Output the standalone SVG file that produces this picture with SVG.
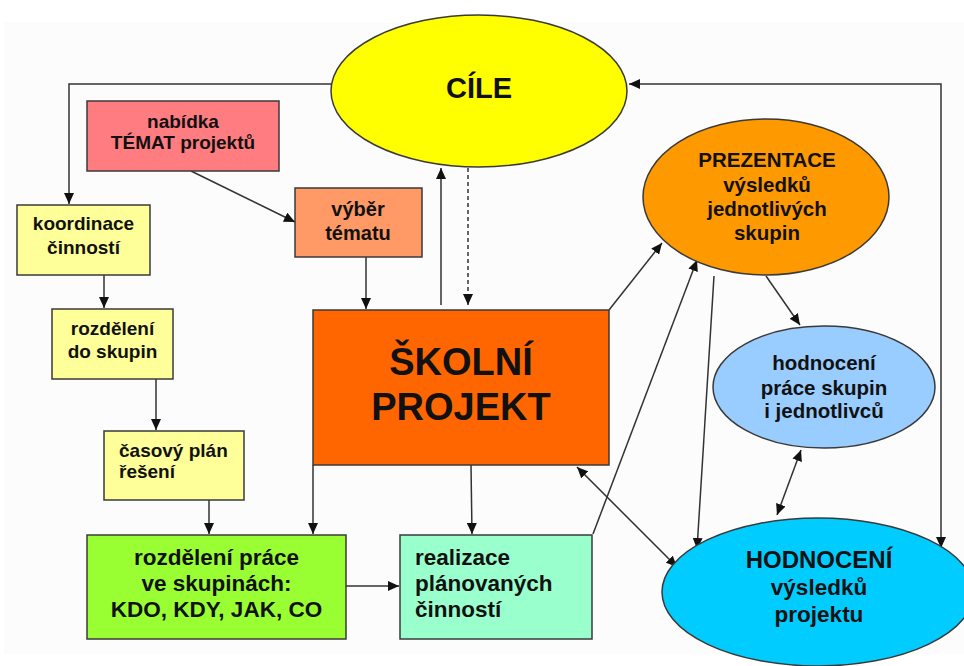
<svg xmlns="http://www.w3.org/2000/svg" width="964" height="666" viewBox="0 0 964 666">
<style>
  .box { stroke: #3a3a3a; stroke-width: 1.5; }
  .t { font-family: "Liberation Sans", Arial, sans-serif; font-weight: bold; fill: #111; text-anchor: middle; }
  .tl { text-anchor: start; }
  .c { fill: none; stroke: #333; stroke-width: 1.5; }
  .dash { stroke-dasharray: 4 3; }
</style>
<defs>
  <marker id="ah" markerUnits="userSpaceOnUse" markerWidth="12" markerHeight="10" refX="11" refY="5" orient="auto-start-reverse">
    <path d="M0,0 L11,5 L0,10 Z" fill="#111"/>
  </marker>
</defs>
<rect x="0" y="0" width="964" height="666" fill="#ffffff"/>
<rect x="4" y="22" width="960" height="632" fill="#fcfcfc"/>

<g id="connectors">
  <path class="c" d="M331,84 H69 V204" marker-end="url(#ah)"/>
  <path class="c" d="M629,84 H941 V548" marker-start="url(#ah)" marker-end="url(#ah)"/>
  <line class="c" x1="191" y1="171" x2="295" y2="222" marker-end="url(#ah)"/>
  <line class="c" x1="366" y1="257" x2="366" y2="309" marker-end="url(#ah)"/>
  <line class="c" x1="104" y1="275" x2="104" y2="308" marker-end="url(#ah)"/>
  <line class="c" x1="156" y1="379" x2="156" y2="430" marker-end="url(#ah)"/>
  <line class="c" x1="209" y1="500" x2="209" y2="534" marker-end="url(#ah)"/>
  <line class="c" x1="346" y1="586" x2="399" y2="586" marker-end="url(#ah)"/>
  <line class="c" x1="441" y1="305" x2="441" y2="168" marker-end="url(#ah)"/>
  <line class="c dash" x1="468" y1="168" x2="468" y2="305" marker-end="url(#ah)"/>
  <line class="c" x1="313" y1="465" x2="313" y2="534" marker-end="url(#ah)"/>
  <line class="c" x1="471" y1="465" x2="472" y2="534" marker-end="url(#ah)"/>
  <line class="c" x1="609" y1="310" x2="662" y2="243" marker-end="url(#ah)"/>
  <line class="c" x1="593" y1="534" x2="697" y2="260" marker-end="url(#ah)"/>
  <line class="c" x1="714" y1="276" x2="697" y2="549" marker-end="url(#ah)"/>
  <line class="c" x1="766" y1="276" x2="800" y2="325" marker-end="url(#ah)"/>
  <line class="c" x1="577" y1="467" x2="677" y2="567" marker-start="url(#ah)" marker-end="url(#ah)"/>
  <line class="c" x1="801" y1="450" x2="777" y2="515" marker-start="url(#ah)" marker-end="url(#ah)"/>
</g>

<g id="cile">
  <ellipse class="box" cx="479" cy="91" rx="148" ry="76" fill="#ffff00"/>
  <text class="t" x="479" y="98" font-size="29">CÍLE</text>
</g>

<g id="nabidka">
  <rect class="box" x="87" y="101" width="192" height="70" fill="#ff7c80"/>
  <text class="t" x="183" y="128" font-size="19">nabídka</text>
  <text class="t" x="183" y="149" font-size="19">TÉMAT projektů</text>
</g>

<g id="vyber">
  <rect class="box" x="295" y="188" width="127" height="69" fill="#ff9966"/>
  <text class="t" x="358" y="216" font-size="20">výběr</text>
  <text class="t" x="358" y="240" font-size="20">tématu</text>
</g>

<g id="koordinace">
  <rect class="box" x="17" y="205" width="133" height="70" fill="#ffff99"/>
  <text class="t" x="83.5" y="230" font-size="19">koordinace</text>
  <text class="t" x="83.5" y="254" font-size="19">činností</text>
</g>

<g id="rozdeleni">
  <rect class="box" x="52" y="309" width="121" height="70" fill="#ffff99"/>
  <text class="t" x="112.5" y="335" font-size="19">rozdělení</text>
  <text class="t" x="112.5" y="358" font-size="19">do skupin</text>
</g>

<g id="casovy">
  <rect class="box" x="104" y="431" width="140" height="69" fill="#ffff99"/>
  <text class="t tl" x="119" y="457" font-size="19">časový plán</text>
  <text class="t tl" x="119" y="478" font-size="19">řešení</text>
</g>

<g id="rozdeleni-prace">
  <rect class="box" x="87" y="535" width="259" height="104" fill="#99ff33"/>
  <text class="t" x="216.5" y="565" font-size="22.5">rozdělení práce</text>
  <text class="t" x="216.5" y="591" font-size="22.5">ve skupinách:</text>
  <text class="t" x="216.5" y="617" font-size="22.5">KDO, KDY, JAK, CO</text>
</g>

<g id="realizace">
  <rect class="box" x="400" y="535" width="192" height="104" fill="#99ffcc"/>
  <text class="t tl" x="415" y="565" font-size="22.5">realizace</text>
  <text class="t tl" x="415" y="591" font-size="22.5">plánovaných</text>
  <text class="t tl" x="415" y="617" font-size="22.5">činností</text>
</g>

<g id="skolni-projekt">
  <rect class="box" x="313" y="310" width="296" height="155" fill="#ff6600"/>
  <text class="t" x="461" y="375" font-size="38">ŠKOLNÍ</text>
  <text class="t" x="461" y="420" font-size="38">PROJEKT</text>
</g>

<g id="prezentace">
  <ellipse class="box" cx="766" cy="197" rx="123" ry="78" fill="#ff9900"/>
  <text class="t" x="767" y="167" font-size="20.5">PREZENTACE</text>
  <text class="t" x="767" y="192" font-size="20.5">výsledků</text>
  <text class="t" x="767" y="216" font-size="20.5">jednotlivých</text>
  <text class="t" x="767" y="240" font-size="20.5">skupin</text>
</g>

<g id="hodnoceni-prace">
  <ellipse class="box" cx="824" cy="387" rx="111" ry="61" fill="#99ccff"/>
  <text class="t" x="824" y="370" font-size="20.5">hodnocení</text>
  <text class="t" x="824" y="395" font-size="20.5">práce skupin</text>
  <text class="t" x="824" y="418" font-size="20.5">i jednotlivců</text>
</g>

<g id="hodnoceni-vysledku">
  <ellipse class="box" cx="818" cy="592" rx="156" ry="74" fill="#00ccff"/>
  <text class="t" x="819" y="568" font-size="24">HODNOCENÍ</text>
  <text class="t" x="819" y="595" font-size="22.5">výsledků</text>
  <text class="t" x="819" y="622" font-size="22.5">projektu</text>
</g>
</svg>
